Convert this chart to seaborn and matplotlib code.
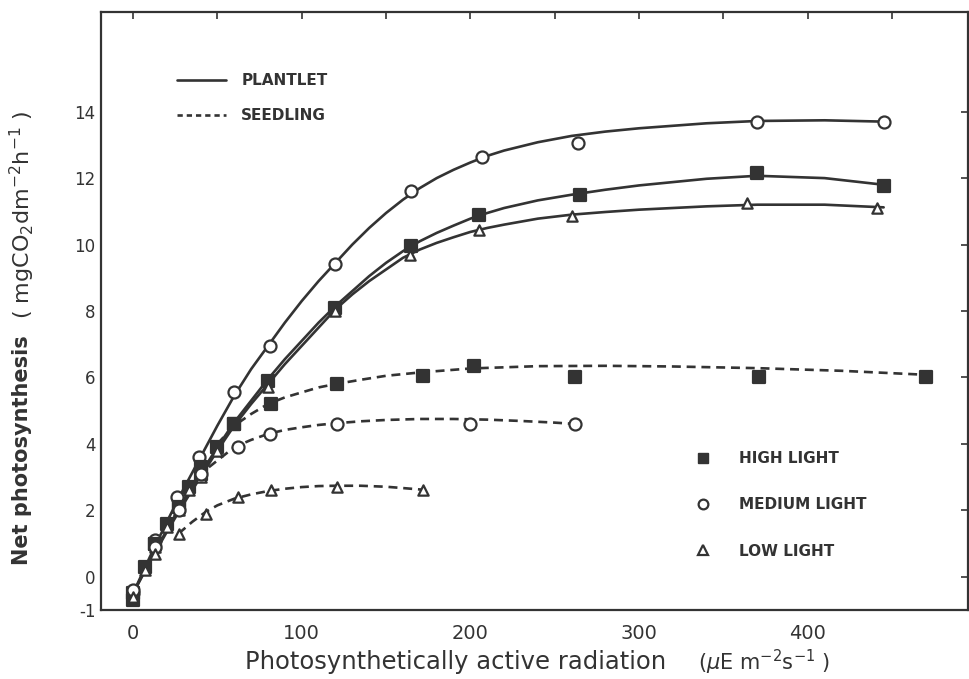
import matplotlib
matplotlib.use("Agg")
import matplotlib.pyplot as plt
import seaborn as sns
import pandas as pd
from matplotlib.lines import Line2D

# ---------------- data ----------------
# measured points
pl_high_x = [0, 7, 13, 20, 27, 33, 40, 50, 60, 80, 120, 165, 205, 265, 370, 445]
pl_high_y = [-0.7, 0.3, 1.0, 1.6, 2.2, 2.7, 3.1, 3.9, 4.6, 5.9, 8.1, 9.95, 10.9, 11.5, 12.15, 11.75]
pl_med_x = [0, 13, 26, 39, 60, 81, 120, 165, 207, 264, 370, 445]
pl_med_y = [-0.5, 1.1, 2.4, 3.6, 5.55, 6.95, 9.4, 11.6, 12.65, 13.05, 13.7, 13.7]
pl_low_x = [0, 7, 13, 20, 27, 33, 40, 50, 60, 80, 120, 164, 205, 260, 364, 441]
pl_low_y = [-0.6, 0.2, 0.9, 1.5, 2.0, 2.6, 3.0, 3.8, 4.6, 5.7, 8.0, 9.7, 10.45, 10.85, 11.25, 11.1]

sd_high_x = [0, 13, 27, 40, 60, 82, 121, 172, 202, 262, 371, 470]
sd_high_y = [-0.5, 1.0, 2.1, 3.3, 4.6, 5.2, 5.8, 6.05, 6.35, 6.0, 6.0, 6.0]
sd_med_x = [0, 13, 27, 40, 62, 81, 121, 200, 262]
sd_med_y = [-0.4, 0.9, 2.0, 3.1, 3.9, 4.3, 4.6, 4.6, 4.6]
sd_low_x = [0, 13, 27, 43, 62, 82, 121, 172]
sd_low_y = [-0.6, 0.7, 1.3, 1.9, 2.4, 2.6, 2.7, 2.6]

# fitted curves as drawn in the figure
pl_curve_x = [0, 10, 20, 30, 40, 50, 60, 70, 80, 90, 100, 110, 120, 130, 140, 150,
              160, 170, 180, 190, 200, 210, 220, 240, 260, 280, 300, 340, 370, 410, 445]
pl_med_curve = [-0.5, 0.6, 1.65, 2.65, 3.6, 4.55, 5.45, 6.25, 6.95, 7.65, 8.3, 8.9, 9.45,
                10.0, 10.5, 10.95, 11.35, 11.7, 12.0, 12.25, 12.47, 12.67, 12.83, 13.08,
                13.27, 13.4, 13.5, 13.65, 13.72, 13.74, 13.7]
pl_high_curve = [-0.5, 0.5, 1.4, 2.3, 3.1, 3.9, 4.65, 5.3, 5.95, 6.55, 7.1, 7.65, 8.15,
                 8.6, 9.05, 9.45, 9.8, 10.1, 10.35, 10.57, 10.78, 10.95, 11.1, 11.33,
                 11.5, 11.65, 11.78, 11.98, 12.07, 12.0, 11.8]
pl_low_curve = [-0.5, 0.45, 1.35, 2.2, 3.0, 3.8, 4.55, 5.2, 5.8, 6.4, 6.95, 7.5, 8.05,
                8.5, 8.9, 9.25, 9.6, 9.85, 10.05, 10.22, 10.38, 10.5, 10.6, 10.78,
                10.9, 10.98, 11.05, 11.15, 11.2, 11.2, 11.12]

sd_high_curve_x = [50, 60, 70, 80, 90, 100, 110, 120, 135, 150, 170, 200, 240, 280, 320, 370, 420, 470]
sd_high_curve = [4.0, 4.55, 4.9, 5.2, 5.4, 5.55, 5.7, 5.8, 5.93, 6.05, 6.15, 6.27, 6.34,
                 6.35, 6.33, 6.28, 6.2, 6.08]
sd_med_curve_x = [45, 60, 70, 80, 90, 100, 110, 120, 135, 150, 170, 190, 210, 230, 250, 262]
sd_med_curve = [3.3, 3.9, 4.12, 4.3, 4.42, 4.5, 4.57, 4.62, 4.68, 4.72, 4.75, 4.75, 4.73,
                4.69, 4.64, 4.6]
sd_low_curve_x = [27, 35, 43, 50, 60, 70, 80, 90, 100, 110, 120, 135, 150, 160, 172]
sd_low_curve = [1.3, 1.65, 1.95, 2.15, 2.35, 2.48, 2.58, 2.65, 2.7, 2.73, 2.74, 2.74,
                2.71, 2.67, 2.62]

x_ticks = [0, 100, 200, 300, 400]
x_minor = [50, 150, 250, 350, 450]
y_ticks = [-1, 0, 2, 4, 6, 8, 10, 12, 14]

# ---------------- styling ----------------
sns.set_style("white")
plt.rcParams["font.family"] = ["DejaVu Sans"]
INK = "#333333"

fig = plt.figure(figsize=(9.69, 6.79), dpi=100)
ax = fig.add_axes([101 / 969, 1 - 610 / 679, (968 - 101) / 969, (610 - 12) / 679])

LW = 1.9
DASH = (0, (3.4, 2.2))

curves = [
    (pl_curve_x, pl_med_curve, "-"),
    (pl_curve_x, pl_high_curve, "-"),
    (pl_curve_x, pl_low_curve, "-"),
    (sd_high_curve_x, sd_high_curve, DASH),
    (sd_med_curve_x, sd_med_curve, DASH),
    (sd_low_curve_x, sd_low_curve, DASH),
]
for cx, cy, ls in curves:
    sns.lineplot(x=cx, y=cy, ax=ax, color=INK, linewidth=LW, linestyle=ls,
                 sort=False, estimator=None, zorder=2)

pts = [
    (pl_high_x, pl_high_y, "s", INK),
    (pl_med_x, pl_med_y, "o", "white"),
    (pl_low_x, pl_low_y, "^", "white"),
    (sd_high_x, sd_high_y, "s", INK),
    (sd_med_x, sd_med_y, "o", "white"),
    (sd_low_x, sd_low_y, "^", "white"),
]
for px, py, mk, fc in pts:
    sz = 75 if mk != "^" else 55
    sns.scatterplot(x=px, y=py, ax=ax, marker=mk, s=sz, facecolor=fc,
                    edgecolor=INK, linewidth=1.6, zorder=3)

ax.set_xlim(-19, 495)
ax.set_ylim(-1, 17)
ax.set_xticks(x_ticks)
ax.set_xticks(x_minor, minor=True)
ax.set_yticks(y_ticks)
ax.set_yticklabels([str(v) for v in y_ticks])
ax.tick_params(axis="both", which="both", direction="in", top=True, right=True,
               length=5, width=1.2, color=INK, labelcolor=INK)
ax.tick_params(axis="x", which="both", pad=10, labelsize=14)
ax.tick_params(axis="y", pad=4, labelsize=12)
for sp in ax.spines.values():
    sp.set_color(INK)
    sp.set_linewidth(1.6)
ax.set_xlabel("")
ax.set_ylabel("")

# axis titles
fig.text(456 / 969, 1 - 662 / 679, "Photosynthetically active radiation",
         ha="center", va="center", fontsize=17.5, color=INK)
fig.text(764 / 969, 1 - 662 / 679, r"($\mu$E m$^{-2}$s$^{-1}$ )",
         ha="center", va="center", fontsize=15, color=INK)
fig.text(22 / 969, 1 - 450 / 679, "Net photosynthesis", rotation=90,
         ha="center", va="center", fontsize=15, fontweight="bold", color=INK)
fig.text(22 / 969, 1 - 215 / 679, r"( mgCO$_2$dm$^{-2}$h$^{-1}$ )", rotation=90,
         ha="center", va="center", fontsize=16, color=INK)

# legends
h1 = [Line2D([], [], color=INK, lw=LW, ls="-"),
      Line2D([], [], color=INK, lw=LW, ls=(0, (2.0, 1.5)))]
leg1 = ax.legend(h1, ["PLANTLET", "SEEDLING"], loc="upper left",
                 bbox_to_anchor=(70 / 867, 1 - 55 / 598), frameon=False,
                 handlelength=3.2, handletextpad=1.0, labelspacing=1.3,
                 prop={"size": 11, "weight": "bold"}, labelcolor=INK,
                 borderaxespad=0)
ax.add_artist(leg1)
h2 = [Line2D([], [], color=INK, ls="none", marker="s", markersize=7,
             markerfacecolor=INK, markeredgecolor=INK),
      Line2D([], [], color=INK, ls="none", marker="o", markersize=7,
             markerfacecolor="white", markeredgecolor=INK, markeredgewidth=1.6),
      Line2D([], [], color=INK, ls="none", marker="^", markersize=7,
             markerfacecolor="white", markeredgecolor=INK, markeredgewidth=1.6)]
ax.legend(h2, ["HIGH LIGHT", "MEDIUM LIGHT", "LOW LIGHT"], loc="upper left",
          bbox_to_anchor=(588 / 867, 1 - 433 / 598), frameon=False,
          handlelength=1.0, handletextpad=1.9, labelspacing=2.05,
          prop={"size": 11, "weight": "bold"}, labelcolor=INK, borderaxespad=0)

fig.savefig("out.png", dpi=100, facecolor="white")
